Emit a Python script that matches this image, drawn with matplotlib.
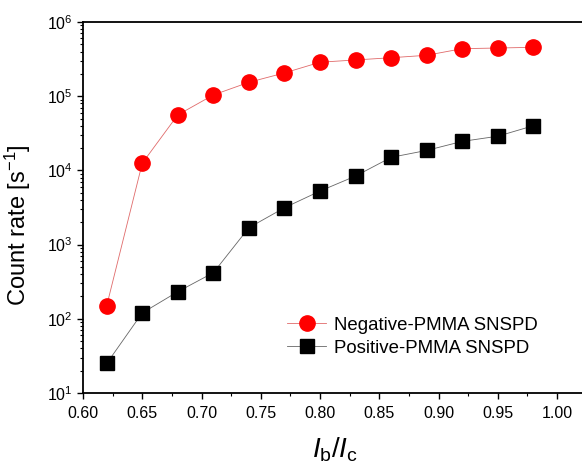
import matplotlib
matplotlib.use("Agg")
import matplotlib.pyplot as plt
from matplotlib.ticker import LogLocator, MultipleLocator, NullFormatter

# values
current_ratio = [0.62, 0.65, 0.68, 0.71, 0.74, 0.77, 0.80, 0.83, 0.86, 0.89, 0.92, 0.95, 0.98]
negative_pmma = [150, 12500, 56000, 104000, 154000, 206000, 287000, 308000, 330000,
                 356000, 437000, 446000, 456000]
positive_pmma = [25, 120, 232, 418, 1690, 3140, 5270, 8400, 15000, 18600, 24600,
                 28900, 40000]

plt.rcParams["font.family"] = ["Liberation Sans", "DejaVu Sans"]
plt.rcParams["mathtext.fontset"] = "custom"
plt.rcParams["mathtext.rm"] = "Liberation Sans"
plt.rcParams["mathtext.it"] = "Liberation Sans:italic"
plt.rcParams["mathtext.bf"] = "Liberation Sans:bold"

fig = plt.figure(figsize=(5.82, 4.73), dpi=100)
W, H = 582, 473
ax = fig.add_axes([83 / W, 80 / H, (W - 83) / W, 371 / H])

ax.plot(current_ratio, negative_pmma, color="#e06a6a", lw=0.6, marker="o",
        markersize=11, markerfacecolor="#ff0000", markeredgecolor="#ff0000",
        label="Negative-PMMA SNSPD")
ax.plot(current_ratio, positive_pmma, color="#666666", lw=0.6, marker="s",
        markersize=9.5, markerfacecolor="#000000", markeredgecolor="#000000",
        label="Positive-PMMA SNSPD")

ax.set_yscale("log")
ax.set_ylim(10, 1e6)
ax.set_xlim(0.6, 1.021)
ax.xaxis.set_major_locator(MultipleLocator(0.05))
ax.xaxis.set_minor_locator(MultipleLocator(0.025))
ax.xaxis.set_major_formatter(plt.FuncFormatter(lambda v, p: f"{v:.2f}"))
ax.yaxis.set_major_locator(LogLocator(base=10, numticks=10))
ax.yaxis.set_minor_locator(LogLocator(base=10, subs=range(2, 10), numticks=10))
ax.yaxis.set_minor_formatter(NullFormatter())

for s in ["left", "bottom", "top"]:
    ax.spines[s].set_linewidth(1.3)
ax.spines["right"].set_visible(False)
ax.tick_params(which="major", direction="out", length=4, width=1.0, labelsize=11.5)
ax.tick_params(which="minor", direction="out", length=2.5, width=0.8)
ax.tick_params(axis="x", pad=5)

ax.set_ylabel("Count rate [s$^{-1}$]", fontsize=17)
ax.yaxis.set_label_coords(-0.1, 0.453)
ax.set_xlabel(r"$I_{\mathrm{b}}/I_{\mathrm{c}}$", fontsize=20)
ax.xaxis.set_label_coords(0.505, -0.115)

ax.legend(loc="upper left", bbox_to_anchor=(0.409, 0.205), frameon=False,
          fontsize=13.4, handlelength=2.1, handletextpad=0.4, labelspacing=0.3,
          borderpad=0, borderaxespad=0)

fig.savefig("out.png", dpi=100)
